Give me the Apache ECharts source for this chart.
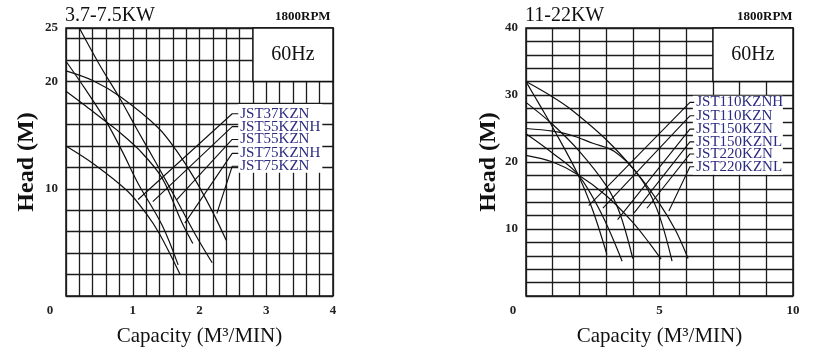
<!DOCTYPE html>
<html>
<head>
<meta charset="utf-8">
<script src="https://cdn.jsdelivr.net/npm/echarts@6/dist/echarts.min.js"></script>
<style>
html, body { margin: 0; padding: 0; background: #fff; }
#chart { width: 827px; height: 352px; }
</style>
</head>
<body>
<div id="chart"></div>
<script>
// ---- left panel, 3.7-7.5KW ----
var smallModels = ['JST37KZN', 'JST55KZNH', 'JST55KZN', 'JST75KZNH', 'JST75KZN'];
// head curves [capacity, head]
var smallCurves = [
    [[0, 14.0], [0.42, 12.3], [0.92, 9.8], [1.2, 7.7], [1.4, 5.8], [1.71, 2.0]],
    [[0, 21.9], [0.3, 19.2], [0.61, 16.2], [0.85, 13.4], [1.08, 10.5], [1.44, 6.6], [1.68, 2.9]],
    [[0.2, 25], [0.5, 21.6], [0.81, 18.4], [1.05, 15.7], [1.35, 12.4], [1.68, 8.7], [1.95, 5.6], [2.19, 3.1]],
    [[0, 19.1], [0.3, 17.7], [0.61, 16.2], [0.76, 15.5], [1.1, 13.6], [1.44, 11.0], [1.74, 6.8], [1.9, 4.9]],
    [[0, 21.0], [0.4, 20.1], [0.81, 18.6], [1.38, 15.7], [1.65, 13.6], [1.93, 10.9], [2.2, 7.8], [2.4, 5.2]]
];
// leader lines: point on curve -> label row
var smallLeaderFrom = [[1.08, 9.0], [1.30, 8.8], [1.66, 9.0], [1.78, 6.8], [2.26, 7.7]];
var smallLabelHead = [17.0, 15.8, 14.6, 13.3, 12.1];

// ---- right panel, 11-22KW ----
var bigModels = ['JST110KZNH', 'JST110KZN', 'JST150KZN', 'JST150KZNL', 'JST220KZN', 'JST220KZNL'];
var bigCurves = [
    [[0, 32], [1, 29.7], [1.7, 27.8], [2.96, 23.5], [4.1, 18.6], [5, 13.8], [5.6, 9.8], [6.07, 5.6]],
    [[0, 32], [0.5, 28.6], [1.08, 24.6], [1.95, 18.1], [2.5, 12.8], [3.03, 6.2]],
    [[0, 28.9], [1, 25.6], [2, 21.6], [3, 16.5], [3.5, 12.5], [4.0, 5.6]],
    [[0, 25.0], [1, 24.6], [1.7, 24.0], [2.5, 22.8], [3.3, 21.6], [4.2, 18.1], [4.9, 13.0], [5.47, 5.2]],
    [[0, 24.2], [1, 21.3], [1.95, 18.1], [2.8, 12.5], [3.6, 5.2]],
    [[0, 21.0], [1, 20.0], [1.95, 18.1], [3.0, 15.0], [4.0, 11.0], [4.6, 8.0], [5.06, 5.5]]
];
var bigLeaderFrom = [[2.35, 13.5], [2.88, 13.1], [3.43, 11.4], [4.05, 12.4], [4.53, 13.1], [5.35, 12.7]];
var bigLabelHead = [28.9, 26.9, 24.9, 23.0, 21.2, 19.3];

var FONT = 'Liberation Serif';
var chart = echarts.init(document.getElementById('chart'));

var gridLine = { show: true, lineStyle: { color: '#1c1c1c', width: 1.3 } };

function curveSeries(pts, gi) {
    return {
        type: 'line', xAxisIndex: gi * 2, yAxisIndex: gi * 2,
        data: pts, smooth: 0.35, showSymbol: false, z: 4,
        lineStyle: { color: '#111', width: 1.2 }
    };
}

function leaderSeries(from, head, xElbow, xTick, name, gi, fs) {
    return {
        type: 'line', xAxisIndex: gi * 2, yAxisIndex: gi * 2,
        data: [from, [xElbow, head], [xTick, head]], showSymbol: false, z: 4,
        lineStyle: { color: '#111', width: 1.1 },
        endLabel: { show: true, formatter: name, distance: 2, color: '#2b2b80', fontFamily: FONT, fontSize: fs }
    };
}

function boxSeries(gi, hz, legend) {
    return {
        type: 'line', xAxisIndex: gi * 2, yAxisIndex: gi * 2,
        data: [[0, 0]], showSymbol: false, lineStyle: { width: 0 }, z: 3,
        markArea: {
            silent: true,
            data: [
                [{ xAxis: hz[0], yAxis: hz[1],
                   itemStyle: { color: '#fff', borderColor: '#111', borderWidth: 1.5 },
                   label: { show: true, position: 'inside', formatter: '60Hz', color: '#111', fontFamily: FONT, fontSize: 20 } },
                 { xAxis: hz[2], yAxis: hz[3] }],
                [{ xAxis: legend[0], yAxis: legend[1], itemStyle: { color: '#fff', borderWidth: 0 }, label: { show: false } },
                 { xAxis: legend[2], yAxis: legend[3] }]
            ]
        }
    };
}

var series = [boxSeries(0, [2.8, 25, 4, 20], [2.58, 17.9, 3.84, 11.5]),
              boxSeries(1, [7, 40, 10, 32], [6.25, 29.9, 9.62, 18.1])];
smallCurves.forEach(function (c) { series.push(curveSeries(c, 0)); });
bigCurves.forEach(function (c) { series.push(curveSeries(c, 1)); });
smallModels.forEach(function (m, i) {
    series.push(leaderSeries(smallLeaderFrom[i], smallLabelHead[i], 2.49, 2.58, m, 0, 15));
});
bigModels.forEach(function (m, i) {
    series.push(leaderSeries(bigLeaderFrom[i], bigLabelHead[i], 6.14, 6.3, m, 1, 15));
});

var tickFont = { fontFamily: FONT, fontWeight: 'bold', fontSize: 13, color: '#222' };

function gridAxisX(gi, max, step) {
    return { gridIndex: gi, type: 'value', min: 0, max: max, interval: step,
             axisLine: { show: false }, axisTick: { show: false }, axisLabel: { show: false }, splitLine: gridLine };
}
function labelAxisX(gi, max, step, zeroPad) {
    return { gridIndex: gi, type: 'value', min: 0, max: max, interval: step, position: 'bottom',
             axisLine: { show: false }, axisTick: { show: false }, splitLine: { show: false },
             axisLabel: Object.assign({ margin: 8, formatter: function (v) { return v === 0 ? '{o|0}' : String(v); },
                          rich: { o: Object.assign({ padding: [0, zeroPad, 0, 0] }, tickFont) } }, tickFont),
             name: 'Capacity (M³/MIN)', nameLocation: 'middle', nameGap: 30,
             nameTextStyle: { fontFamily: FONT, fontSize: 21, color: '#111' } };
}
function gridAxisY(gi, max) {
    return { gridIndex: gi, type: 'value', min: 0, max: max, interval: 2, position: 'left',
             axisLine: { show: false }, axisTick: { show: false }, axisLabel: { show: false }, splitLine: gridLine };
}
function labelAxisY(gi, max, step, shown, gap) {
    return { gridIndex: gi, type: 'value', min: 0, max: max, interval: step, position: 'left',
             axisLine: { show: false }, axisTick: { show: false }, splitLine: { show: false },
             axisLabel: Object.assign({ margin: 8, formatter: function (v) { return shown.indexOf(v) >= 0 ? String(v) : ''; } }, tickFont),
             name: 'Head (M)', nameLocation: 'middle', nameGap: gap, nameRotate: 90,
             nameTextStyle: { fontFamily: FONT, fontWeight: 'bold', fontSize: 24, color: '#111' } };
}

var titleFont = { fontFamily: FONT, fontWeight: 'normal', fontSize: 20, color: '#111' };
var rpmFont = { fontFamily: FONT, fontWeight: 'bold', fontSize: 13, color: '#111' };

chart.setOption({
    backgroundColor: '#fff',
    animation: false,
    title: [
        { text: '3.7-7.5KW', left: 65, top: 6, padding: 0, textStyle: titleFont },
        { text: '1800RPM', left: 275, top: 10, padding: 0, textStyle: rpmFont },
        { text: '11-22KW', left: 525, top: 6, padding: 0, textStyle: titleFont },
        { text: '1800RPM', left: 737, top: 10, padding: 0, textStyle: rpmFont }
    ],
    grid: [
        { left: 66, top: 28, width: 267, height: 274, show: true, borderColor: '#111', borderWidth: 1.5 },
        { left: 526, top: 28, width: 267, height: 277, show: true, borderColor: '#111', borderWidth: 1.5 }
    ],
    xAxis: [gridAxisX(0, 4, 0.2), labelAxisX(0, 4, 1, 32), gridAxisX(1, 10, 1), labelAxisX(1, 10, 5, 26)],
    yAxis: [gridAxisY(0, 25), labelAxisY(0, 25, 5, [25, 20, 10], 27), gridAxisY(1, 40), labelAxisY(1, 40, 10, [40, 30, 20, 10], 25)],
    series: series
});
</script>
</body>
</html>
